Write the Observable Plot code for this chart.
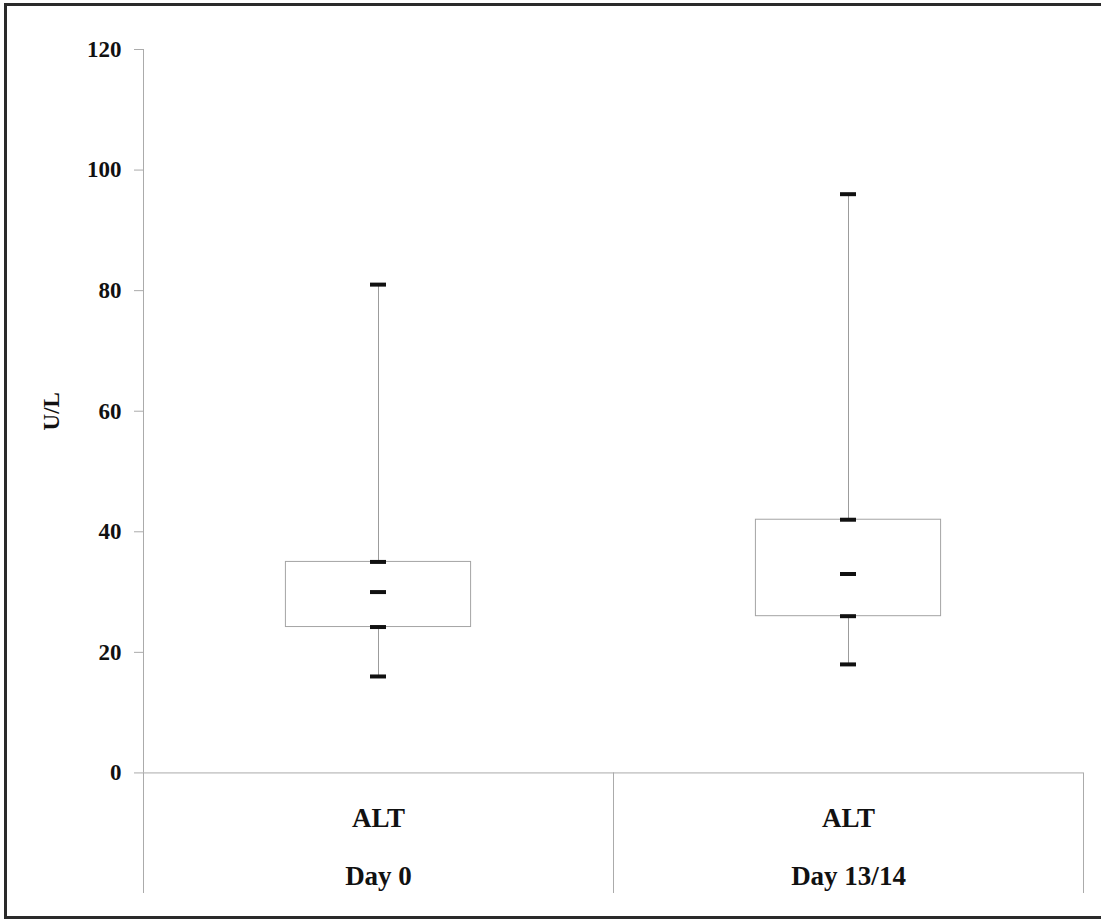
<!DOCTYPE html>
<html>
<head>
<meta charset="utf-8">
<script src="https://cdn.jsdelivr.net/npm/d3@7"></script>
<script src="https://cdn.jsdelivr.net/npm/@observablehq/plot@0.6"></script>
<style>
  html, body { margin: 0; padding: 0; background: #fff; }
  #wrap { position: relative; width: 1101px; height: 919px; overflow: hidden; }
  #border {
    position: absolute; left: 4px; top: 3px; width: 1110px; height: 910px;
    border: 3px solid #2a2a2a; pointer-events: none;
  }
</style>
</head>
<body>
<div id="wrap"><div id="border"></div></div>
<script>
// ALT (U/L) box plot summaries at two study visits
const days = ["Day 0", "Day 13/14"];
const analyte = ["ALT", "ALT"];
const minV = [16, 18];
const q1 = [24.2, 26];
const median = [30, 33];
const q3 = [35, 42];
const maxV = [81, 96];

const yTicks = [0, 20, 40, 60, 80, 100, 120];
const yLabel = "U/L";

const idx = d3.range(days.length);
const center = i => i + 0.5;
const boxHalf = 0.197;   // half box width, in category units
const capHalf = 0.017;   // half cap width, in category units

const lineGray = "#ababab";
const capColor = "#111";
const ink = "#111";

// one cap mark per summary statistic
const caps = [minV, q1, median, q3, maxV].map(vals =>
  Plot.ruleY(idx, {
    x1: i => center(i) - capHalf,
    x2: i => center(i) + capHalf,
    y: i => vals[i],
    stroke: capColor,
    strokeWidth: 4
  })
);

const chart = Plot.plot({
  width: 1101,
  height: 919,
  marginLeft: 143,
  marginRight: 18,
  marginTop: 49,
  marginBottom: 26,
  style: {
    fontFamily: "'Liberation Serif', 'DejaVu Serif', serif",
    fontSize: "23px",
    fontWeight: "bold",
    background: "transparent",
    color: ink
  },
  x: {domain: [0, days.length], axis: null},
  y: {domain: [-20, 120], axis: null},
  marks: [
    // value axis line and category separators
    Plot.ruleX([0], {y1: 0, y2: d3.max(yTicks), stroke: lineGray}),
    Plot.ruleX(d3.range(days.length + 1), {y1: -20, y2: 0, stroke: lineGray}),
    Plot.ruleY([0], {x1: 0, x2: days.length, stroke: lineGray}),
    Plot.axisY(yTicks, {
      tickSize: 9,
      tickPadding: 13,
      stroke: lineGray,
      fill: ink,
      fontSize: 23,
      label: null
    }),
    Plot.text([yLabel], {
      x: 0,
      y: d3.mean(d3.extent(yTicks)),
      dx: -92,
      rotate: -90,
      fontSize: 23,
      fill: ink
    }),
    // whiskers
    Plot.ruleX(idx, {x: center, y1: i => minV[i], y2: i => maxV[i], stroke: "#9c9c9c"}),
    // interquartile boxes
    Plot.rect(idx, {
      x1: i => center(i) - boxHalf,
      x2: i => center(i) + boxHalf,
      y1: i => q1[i],
      y2: i => q3[i],
      fill: "white",
      stroke: "#a4a4a4"
    }),
    ...caps,
    // category labels: analyte, then visit
    Plot.text(idx, {
      x: center,
      y: 0,
      text: i => analyte[i],
      dy: 45,
      fontSize: 27,
      fill: ink
    }),
    Plot.text(idx, {
      x: center,
      y: 0,
      text: i => days[i],
      dy: 103,
      fontSize: 27,
      fill: ink
    })
  ]
});

document.getElementById("wrap").prepend(chart);
</script>
</body>
</html>
